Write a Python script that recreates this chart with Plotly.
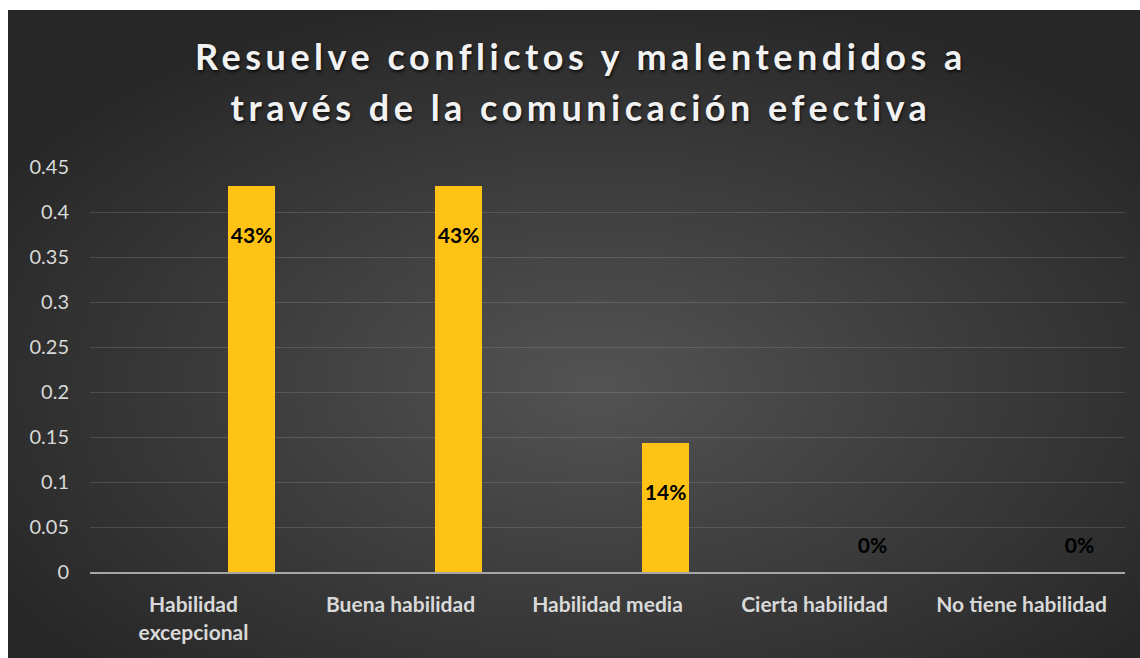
import base64
import plotly.graph_objects as go

categories = ["Habilidad<br>excepcional", "Buena habilidad", "Habilidad media",
              "Cierta habilidad", "No tiene habilidad"]
values = [0.4286, 0.4286, 0.1429, 0.0, 0.0]
labels = ["43%", "43%", "14%", "0%", "0%"]
y_ticks = [0, 0.05, 0.1, 0.15, 0.2, 0.25, 0.3, 0.35, 0.4, 0.45]
y_tick_text = ["0", "0.05", "0.1", "0.15", "0.2", "0.25", "0.3", "0.35", "0.4", "0.45"]
title_text = "Resuelve conflictos y malentendidos a<br>través de la comunicación efectiva"

W, H = 1140, 658
ML, MR, MT, MB = 90, 15, 167, 86
PW = W - ML - MR
PH = H - MT - MB

FONT = "Lato"
BAR_OFFSET = 0.167
BAR_WIDTH = 0.227

svg = ("<svg xmlns='http://www.w3.org/2000/svg' width='1132' height='648' "
       "viewBox='0 0 1132 648' preserveAspectRatio='none'><defs>"
       "<radialGradient id='g' cx='52%' cy='58%' r='62%'>"
       "<stop offset='0' stop-color='#535353'/>"
       "<stop offset='1' stop-color='#272727'/></radialGradient></defs>"
       "<rect width='1132' height='648' fill='url(#g)'/></svg>")
bg_src = "data:image/svg+xml;base64," + base64.b64encode(svg.encode()).decode()

fig = go.Figure()
fig.add_trace(go.Bar(
    x=categories, y=values,
    offset=BAR_OFFSET, width=BAR_WIDTH,
    marker=dict(color="#FFC316", line=dict(width=0)),
    hoverinfo="skip",
))
label_y = [v - 0.057 if v > 0.1 else 0.027 for v in values]
fig.add_trace(go.Scatter(
    x=[i + BAR_OFFSET + BAR_WIDTH / 2 for i in range(len(categories))],
    y=label_y, xaxis="x2",
    mode="text", text=labels,
    textfont=dict(family=FONT, size=21, color="#000000", weight="bold"),
    hoverinfo="skip",
))

fig.update_layout(
    width=W, height=H,
    margin=dict(l=ML, r=MR, t=MT, b=MB),
    paper_bgcolor="#FFFFFF",
    plot_bgcolor="rgba(0,0,0,0)",
    showlegend=False,
    bargap=0,
    title=dict(
        text=title_text,
        x=581 / W, xref="container", xanchor="center",
        y=1 - 70 / H, yref="container", yanchor="middle",
        font=dict(family=FONT, size=36, color="#F2F2F2", weight="bold",
                  shadow="1px 2px 3px rgba(0,0,0,0.7)"),
    ),
    xaxis=dict(
        type="category", range=[-0.5, 4.5],
        showgrid=False, zeroline=False,
        showline=True, linecolor="#A6A6A6", linewidth=2,
        ticks="", ticklabelstandoff=13,
        tickfont=dict(family=FONT, size=21, color="#D9D9D9", weight="bold"),
    ),
    xaxis2=dict(overlaying="x", range=[-0.5, 4.5], visible=False),
    yaxis=dict(
        range=[0, 0.45], tickvals=y_ticks, ticktext=y_tick_text,
        showgrid=True, gridcolor="rgba(255,255,255,0.13)", gridwidth=1,
        zeroline=False, showline=False, ticks="", ticklabelstandoff=20,
        tickfont=dict(family=FONT, size=20, color="#D9D9D9"),
    ),
    images=[dict(
        source=bg_src, xref="paper", yref="paper",
        x=(8 - ML) / PW, y=(H - MB - 10) / PH,
        sizex=(W - 8) / PW, sizey=(H - 10) / PH,
        xanchor="left", yanchor="top", sizing="stretch", layer="below",
    )],
)

post = """
var t = document.querySelector('.gtitle');
if (t) {
  t.style.letterSpacing = '4.5px';
  var lines = t.querySelectorAll('tspan.line');
  for (var i = 1; i < lines.length; i++) {
    var dy = parseFloat(lines[i].getAttribute('dy'));
    if (!isNaN(dy)) { lines[i].setAttribute('dy', (dy * 1.417 / 1.3) + 'em'); }
  }
}
"""

fig.write_html("out.html", post_script=post)
